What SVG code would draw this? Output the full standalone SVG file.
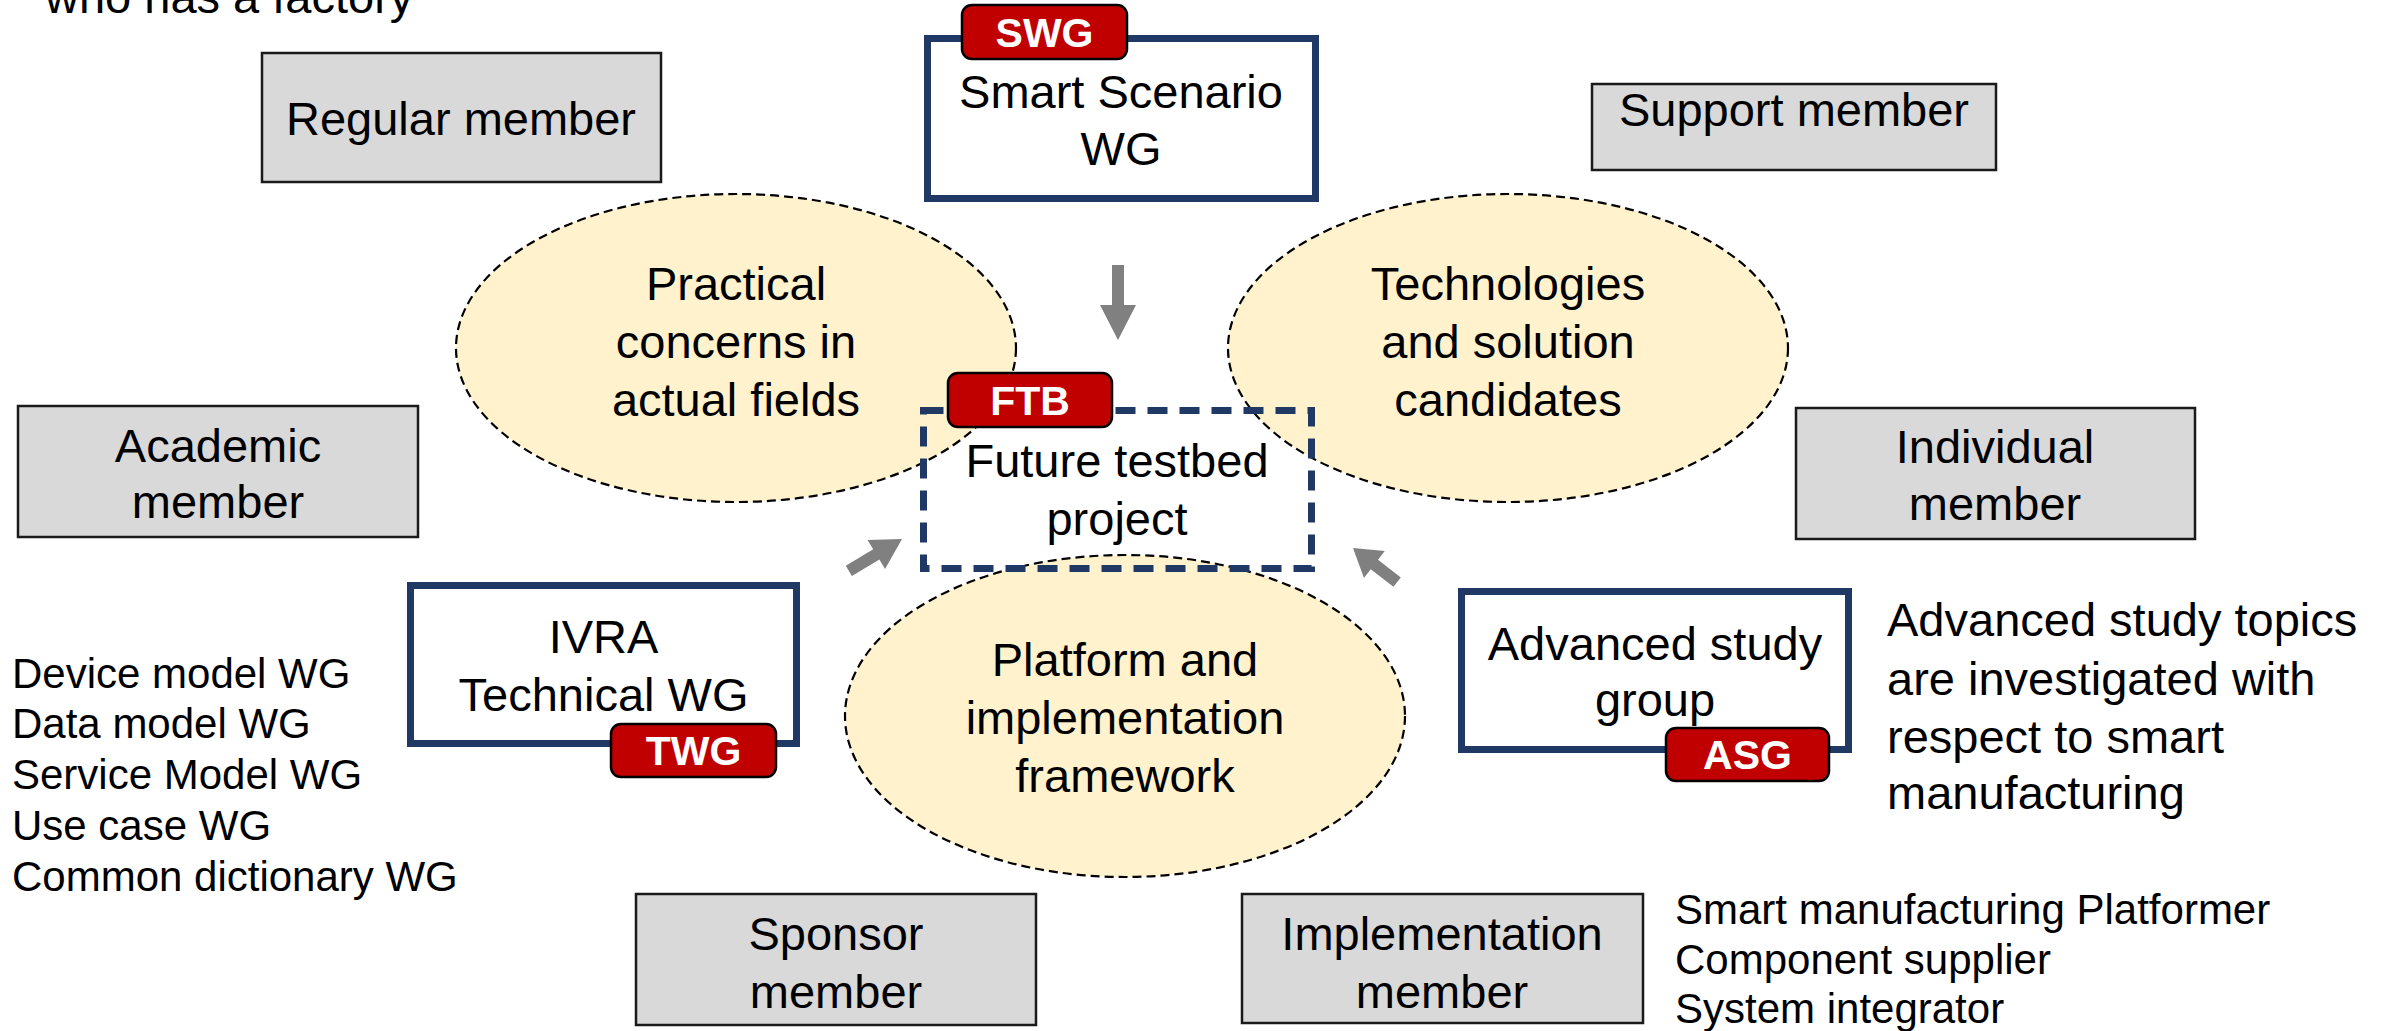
<svg xmlns="http://www.w3.org/2000/svg" width="2387" height="1031" viewBox="0 0 2387 1031">
<defs>
<style>
text{font-family:"Liberation Sans",Arial,sans-serif;fill:#000}
.t{font-size:47px;text-anchor:middle}
.l{font-size:47px}
.s{font-size:42px}
.tag{font-size:41px;font-weight:bold;fill:#fff;text-anchor:middle}
.mem{fill:#D9D9D9;stroke:#1a1a1a;stroke-width:2.5}
.wg{fill:#fff;stroke:#203864;stroke-width:7}
.tagbox{fill:#C00000;stroke:#000;stroke-width:2.5}
.ell{fill:#FFF2CC;stroke:#000;stroke-width:2.2;stroke-dasharray:9 5}
.arr{fill:#808080}
</style>
<polygon id="arrowShape" points="-62,-6 -30,-6 -30,-17 0,0 -30,17 -30,6 -62,6"/>
</defs>
<rect width="2387" height="1031" fill="#fff"/>

<text class="l" x="45" y="13">who has a factory</text>

<g id="ellipse-practical">
<ellipse class="ell" cx="736" cy="348" rx="280" ry="154"/>
<text class="t" x="736" y="300">Practical</text>
<text class="t" x="736" y="358">concerns in</text>
<text class="t" x="736" y="416">actual fields</text>
</g>
<g id="ellipse-technologies">
<ellipse class="ell" cx="1508" cy="348" rx="280" ry="154"/>
<text class="t" x="1508" y="300">Technologies</text>
<text class="t" x="1508" y="358">and solution</text>
<text class="t" x="1508" y="416">candidates</text>
</g>
<g id="ellipse-platform">
<ellipse class="ell" cx="1125" cy="716" rx="280" ry="161"/>
<text class="t" x="1125" y="676">Platform and</text>
<text class="t" x="1125" y="734">implementation</text>
<text class="t" x="1125" y="792">framework</text>
</g>

<g id="regular-member">
<rect class="mem" x="262" y="53" width="399" height="129"/>
<text class="t" x="461" y="135">Regular member</text>
</g>
<g id="support-member">
<rect class="mem" x="1592" y="84" width="404" height="86"/>
<text class="t" x="1794" y="126">Support member</text>
</g>
<g id="academic-member">
<rect class="mem" x="18" y="406" width="400" height="131"/>
<text class="t" x="218" y="462">Academic</text>
<text class="t" x="218" y="518">member</text>
</g>
<g id="individual-member">
<rect class="mem" x="1796" y="408" width="399" height="131"/>
<text class="t" x="1995" y="463">Individual</text>
<text class="t" x="1995" y="520">member</text>
</g>
<g id="sponsor-member">
<rect class="mem" x="636" y="894" width="400" height="131"/>
<text class="t" x="836" y="950">Sponsor</text>
<text class="t" x="836" y="1008">member</text>
</g>
<g id="implementation-member">
<rect class="mem" x="1242" y="894" width="401" height="129"/>
<text class="t" x="1442" y="950">Implementation</text>
<text class="t" x="1442" y="1008">member</text>
</g>

<g id="swg">
<rect class="wg" x="927.5" y="38.5" width="388" height="160"/>
<rect class="tagbox" x="962" y="5" width="165" height="54" rx="10"/>
<text class="tag" x="1044.5" y="47">SWG</text>
<text class="t" x="1121" y="108">Smart Scenario</text>
<text class="t" x="1121" y="165">WG</text>
</g>

<g id="ftb">
<rect x="923.5" y="410.5" width="388" height="158" fill="none" stroke="#203864" stroke-width="7" stroke-dasharray="20 12"/>
<rect class="tagbox" x="948" y="373" width="164" height="54" rx="10"/>
<text class="tag" x="1030" y="415">FTB</text>
<text class="t" x="1117" y="477">Future testbed</text>
<text class="t" x="1117" y="535">project</text>
</g>

<g id="twg">
<rect class="wg" x="410.5" y="585.5" width="386" height="158"/>
<text class="t" x="603.5" y="653">IVRA</text>
<text class="t" x="603.5" y="711">Technical WG</text>
<rect class="tagbox" x="611" y="724" width="165" height="53" rx="10"/>
<text class="tag" x="693.5" y="765">TWG</text>
</g>

<g id="asg">
<rect class="wg" x="1461.5" y="591.5" width="387" height="158"/>
<text class="t" x="1655" y="660">Advanced study</text>
<text class="t" x="1655" y="716">group</text>
<rect class="tagbox" x="1666" y="728" width="163" height="53" rx="10"/>
<text class="tag" x="1747.5" y="769">ASG</text>
</g>

<g id="asg-note">
<text class="l" x="1887" y="636">Advanced study topics</text>
<text class="l" x="1887" y="695">are investigated with</text>
<text class="l" x="1887" y="753">respect to smart</text>
<text class="l" x="1887" y="809">manufacturing</text>
</g>

<g id="twg-list">
<text class="s" x="12" y="688">Device model WG</text>
<text class="s" x="12" y="738">Data model WG</text>
<text class="s" x="12" y="789">Service Model WG</text>
<text class="s" x="12" y="840">Use case WG</text>
<text class="s" x="12" y="891">Common dictionary WG</text>
</g>

<g id="impl-list">
<text class="s" x="1675" y="924">Smart manufacturing Platformer</text>
<text class="s" x="1675" y="974">Component supplier</text>
<text class="s" x="1675" y="1023">System integrator</text>
</g>

<g id="connectors">
<polygon class="arr" points="1112,265 1124,265 1124,305 1136,305 1118,340 1100,305 1112,305"/>
<use href="#arrowShape" class="arr" transform="translate(902,539) rotate(-31)"/>
<use href="#arrowShape" class="arr" transform="translate(1353,548) rotate(217.7) scale(0.9,1)"/>
</g>
</svg>
